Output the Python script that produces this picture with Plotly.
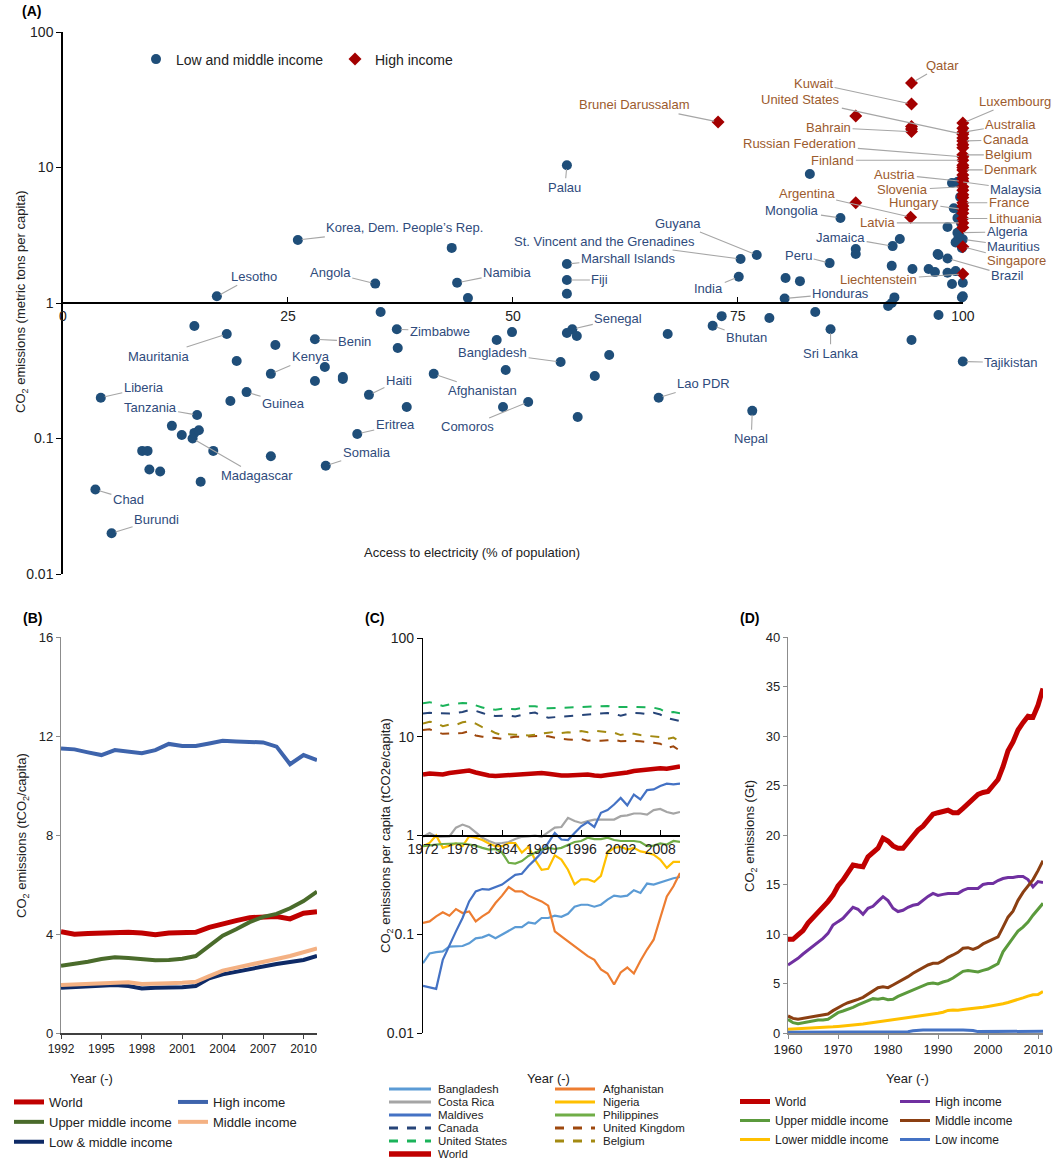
import numpy as np
import plotly.graph_objects as go

W, H = 1061, 1162
FONT = "Liberation Sans, Arial, sans-serif"

# ---------------- Panel A data ----------------
lm_named = ['Lesotho', 'Korea, Dem. People’s Rep.', 'Angola', 'Namibia', 'Palau', 'Guyana',
            'St. Vincent and the Grenadines', 'Marshall Islands', 'Fiji', 'India', 'Peru', 'Mongolia',
            'Jamaica', 'Honduras', 'Malaysia', 'Algeria', 'Mauritius', 'Brazil', 'Mauritania', 'Benin',
            'Kenya', 'Zimbabwe', 'Liberia', 'Tanzania', 'Guinea', 'Haiti', 'Afghanistan', 'Eritrea',
            'Somalia', 'Madagascar', 'Chad', 'Burundi', 'Comoros', 'Bangladesh', 'Senegal', 'Bhutan',
            'Lao PDR', 'Nepal', 'Sri Lanka', 'Tajikistan']
lm_named_access = [17.1, 26.1, 34.7, 43.8, 56.0, 77.1, 75.3, 56.0, 56.0, 75.1, 85.2, 86.4,
                   92.2, 80.2, 99.6, 99.6, 100.0, 98.3, 18.2, 28.0, 23.1, 37.1, 4.2, 14.9,
                   20.4, 34.0, 41.2, 32.7, 29.2, 14.4, 3.6, 5.4, 51.7, 55.3, 56.6, 72.2,
                   66.2, 76.6, 85.3, 100.0]
lm_named_co2 = [1.12, 2.92, 1.39, 1.41, 10.4, 2.26, 2.11, 1.94, 1.48, 1.56, 1.97, 4.24,
                2.63, 1.08, 7.9, 3.3, 2.95, 2.13, 0.59, 0.54, 0.30, 0.64, 0.20, 0.149,
                0.22, 0.21, 0.30, 0.108, 0.063, 0.10, 0.042, 0.020, 0.186, 0.367, 0.64, 0.68,
                0.20, 0.16, 0.64, 0.37]
lm_other_access = [43.2, 45.0, 56.0, 83.0, 93.0, 88.1, 88.1, 92.1, 94.4, 80.3, 81.9, 97.3,
                   96.2, 96.9, 98.3, 99.2, 98.8, 100.0, 91.7, 92.1, 92.4, 99.9, 100.0,
                   14.6, 23.6, 19.3, 29.1, 28.0, 31.1, 31.1, 18.6, 12.1, 13.2, 14.6, 15.1,
                   16.7, 8.8, 9.4, 9.6, 10.8, 15.3, 23.1, 38.2, 37.2, 35.3, 48.2, 49.9,
                   49.2, 48.9, 56.0, 57.1, 60.7, 59.1, 67.2, 57.2, 73.2, 78.5, 83.6, 94.3,
                   97.3, 98.8, 99.4, 99.7, 99.4, 98.3, 99.4, 99.9, 97.2, 99.0, 99.5, 99.7,
                   99.2, 99.8]
lm_other_co2 = [2.55, 1.09, 1.17, 8.96, 2.97, 2.5, 2.3, 1.88, 1.78, 1.53, 1.45, 2.26,
                1.78, 1.69, 1.67, 1.72, 1.38, 1.41, 0.95, 1.0, 1.1, 1.1, 1.12,
                0.676, 0.49, 0.373, 0.337, 0.266, 0.284, 0.275, 0.189, 0.124, 0.106, 0.11, 0.115,
                0.081, 0.081, 0.081, 0.059, 0.057, 0.048, 0.074, 0.171, 0.466, 0.858, 0.533, 0.61,
                0.32, 0.171, 0.60, 0.57, 0.413, 0.289, 0.59, 0.144, 0.80, 0.775, 0.858, 0.533,
                0.815, 7.7, 7.8, 6.06, 4.24, 3.64, 3.3, 2.55, 2.3, 5.0, 3.0, 4.8,
                2.8, 3.9]

hi_named = ['Qatar', 'Kuwait', 'Brunei Darussalam', 'Bahrain', 'Luxembourg', 'United States',
            'Australia', 'Canada', 'Russian Federation', 'Belgium', 'Finland', 'Denmark',
            'Austria', 'Slovenia', 'France', 'Hungary', 'Lithuania', 'Latvia', 'Argentina',
            'Singapore', 'Liechtenstein']
hi_named_access = [94.3, 94.3, 72.8, 94.3, 100.0, 100.0, 100.0, 100.0, 100.0, 100.0, 100.0, 100.0,
                   100.0, 100.0, 100.0, 100.0, 100.0, 100.0, 94.2, 100.0, 100.0]
hi_named_co2 = [42.0, 29.4, 21.7, 18.4, 21.3, 17.6, 18.2, 15.7, 12.0, 12.4, 11.3, 9.6,
                7.9, 7.2, 5.5, 4.9, 4.2, 3.9, 4.3, 2.6, 1.64]
hi_other_access = [88.1, 94.3, 94.3, 88.1, 100.0, 100.0, 100.0, 100.0, 100.0, 100.0, 100.0,
                   100.0, 100.0, 100.0, 100.0, 100.0, 100.0, 100.0]
hi_other_co2 = [24.0, 20.1, 19.2, 5.5, 19.5, 16.5, 14.7, 14.0, 10.4, 10.0, 8.8, 8.3,
                6.8, 6.3, 6.0, 5.2, 4.6, 3.6]

a_xticks = [0, 25, 50, 75, 100]
a_yticks = [0.01, 0.1, 1, 10, 100]
a_yticklabels = ['0.01', '0.1', '1', '10', '100']

# ---------------- Panel B data ----------------
b_years = list(range(1992, 2012))
b_world = [4.09, 3.99, 4.02, 4.04, 4.07, 4.07, 4.04, 3.97, 4.04, 4.07, 4.07, 4.27, 4.43, 4.54,
           4.66, 4.71, 4.71, 4.61, 4.84, 4.90]
b_high = [11.50, 11.46, 11.34, 11.23, 11.43, 11.38, 11.30, 11.43, 11.68, 11.60, 11.60, 11.70,
          11.81, 11.78, 11.77, 11.74, 11.57, 10.86, 11.23, 11.03]
b_upper = [2.72, 2.79, 2.88, 2.99, 3.06, 3.03, 2.98, 2.94, 2.95, 3.00, 3.11, 3.52, 3.93, 4.19,
           4.48, 4.69, 4.81, 5.04, 5.33, 5.71]
b_middle = [1.94, 1.97, 1.98, 2.03, 2.06, 2.05, 1.98, 1.98, 2.01, 2.03, 2.07, 2.30, 2.52, 2.64,
            2.77, 2.90, 2.99, 3.11, 3.25, 3.42]
b_lowmid = [1.83, 1.85, 1.86, 1.91, 1.94, 1.90, 1.80, 1.83, 1.83, 1.85, 1.90, 2.21, 2.37, 2.48,
            2.61, 2.71, 2.79, 2.87, 2.95, 3.11]
b_xticks = [1992, 1995, 1998, 2001, 2004, 2007, 2010]
b_yticks = [0, 4, 8, 12, 16]

# ---------------- Panel C data ----------------
c_years = list(range(1972, 2012))
c_bangladesh = [0.051, 0.064, 0.066, 0.067, 0.075, 0.076, 0.076, 0.081, 0.091, 0.093,
                0.099, 0.091, 0.099, 0.109, 0.118, 0.118, 0.132, 0.128, 0.146, 0.146,
                0.154, 0.150, 0.161, 0.190, 0.199, 0.199, 0.190, 0.199, 0.224, 0.246,
                0.240, 0.246, 0.279, 0.262, 0.326, 0.318, 0.336, 0.352, 0.369, 0.380]
c_afghanistan = [0.130, 0.135, 0.152, 0.167, 0.154, 0.180, 0.164, 0.170, 0.135, 0.152,
                 0.167, 0.207, 0.246, 0.301, 0.272, 0.272, 0.246, 0.228, 0.215, 0.195,
                 0.107, 0.095, 0.085, 0.075, 0.067, 0.060, 0.055, 0.044, 0.040, 0.031,
                 0.041, 0.046, 0.040, 0.054, 0.070, 0.088, 0.146, 0.242, 0.306, 0.418]
c_costarica = [0.97, 1.06, 0.97, 0.98, 0.98, 1.20, 1.29, 1.22, 1.08, 0.95,
               0.88, 0.83, 0.84, 0.86, 0.92, 0.97, 0.98, 1.00, 0.97, 1.08,
               1.20, 1.22, 1.51, 1.40, 1.34, 1.40, 1.45, 1.45, 1.45, 1.45,
               1.57, 1.60, 1.67, 1.67, 1.63, 1.81, 1.86, 1.73, 1.67, 1.73]
c_nigeria = [0.78, 0.84, 1.00, 0.75, 0.79, 0.83, 0.78, 0.98, 0.95, 0.90,
             0.83, 0.78, 0.78, 0.84, 0.84, 0.67, 0.77, 0.57, 0.45, 0.46,
             0.63, 0.57, 0.45, 0.32, 0.36, 0.36, 0.34, 0.39, 0.67, 0.75,
             0.77, 0.72, 0.75, 0.69, 0.67, 0.64, 0.57, 0.47, 0.54, 0.54]
c_maldives = [0.030, 0.029, 0.028, 0.055, 0.078, 0.107, 0.146, 0.215, 0.272, 0.287,
              0.283, 0.299, 0.318, 0.357, 0.400, 0.410, 0.490, 0.570, 0.670, 0.840,
              1.06, 0.91, 0.90, 1.06, 1.24, 1.37, 1.22, 1.70, 1.81, 2.06,
              2.40, 2.02, 2.60, 2.32, 2.88, 2.93, 3.17, 3.35, 3.30, 3.35]
c_philippines = [0.78, 0.80, 0.81, 0.82, 0.83, 0.83, 0.83, 0.81, 0.79, 0.75,
                 0.72, 0.73, 0.67, 0.53, 0.52, 0.55, 0.62, 0.67, 0.72, 0.75,
                 0.73, 0.75, 0.81, 0.86, 0.88, 0.95, 0.92, 0.92, 0.95, 0.90,
                 0.88, 0.88, 0.88, 0.86, 0.78, 0.79, 0.83, 0.81, 0.88, 0.86]
c_canada = [17.2, 17.5, 17.3, 17.1, 17.2, 17.4, 17.8, 18.6, 18.3, 17.4,
            16.6, 16.2, 16.3, 16.4, 16.0, 16.6, 17.3, 17.6, 16.4, 15.6,
            15.8, 15.9, 16.0, 16.2, 16.4, 16.7, 16.9, 17.1, 17.4, 17.1,
            16.3, 17.0, 17.4, 17.3, 16.9, 17.5, 16.8, 15.5, 15.0, 14.4]
c_uk = [11.7, 11.9, 11.2, 10.7, 10.8, 10.9, 10.9, 11.4, 10.3, 10.0,
        9.9, 9.7, 9.5, 9.7, 10.0, 10.0, 10.1, 10.2, 10.2, 10.1,
        9.8, 9.5, 9.4, 9.3, 9.5, 9.1, 9.2, 9.1, 9.2, 9.3,
        9.0, 9.1, 9.1, 9.0, 8.9, 8.7, 8.5, 7.7, 8.0, 7.2]
c_us = [21.8, 22.4, 21.4, 20.5, 21.2, 21.7, 22.0, 21.8, 20.6, 19.8,
        18.9, 18.8, 19.2, 19.1, 19.0, 19.6, 20.3, 20.4, 19.7, 19.4,
        19.5, 19.6, 19.7, 19.7, 20.0, 20.1, 20.0, 20.1, 20.5, 20.0,
        19.9, 20.0, 20.1, 20.0, 19.6, 19.7, 19.0, 17.5, 17.8, 17.3]
c_belgium = [13.6, 14.2, 13.8, 12.8, 13.3, 13.2, 14.0, 14.4, 13.6, 12.5,
             11.8, 10.9, 10.4, 10.6, 10.5, 10.4, 10.3, 10.5, 10.8, 11.0,
             11.2, 10.9, 11.1, 11.0, 11.4, 11.1, 11.5, 11.2, 11.1, 11.0,
             10.4, 10.8, 10.7, 10.4, 10.2, 10.0, 9.9, 9.5, 9.8, 8.9]
c_world = [4.15, 4.25, 4.20, 4.15, 4.30, 4.35, 4.45, 4.55, 4.35, 4.15,
           4.05, 4.00, 4.05, 4.10, 4.12, 4.18, 4.25, 4.30, 4.30, 4.22,
           4.10, 4.05, 4.05, 4.10, 4.15, 4.15, 4.05, 4.00, 4.10, 4.15,
           4.20, 4.35, 4.50, 4.60, 4.70, 4.75, 4.80, 4.75, 4.90, 5.00]
c_xticks = [1972, 1978, 1984, 1990, 1996, 2002, 2008]
c_yticks = [0.01, 0.1, 1, 10, 100]
c_yticklabels = ['0.01', '0.1', '1', '10', '100']

# ---------------- Panel D data ----------------
d_years = list(range(1960, 2012))
d_world = [9.46, 9.46, 9.9, 10.35, 11.1, 11.6, 12.15, 12.6, 13.27, 13.93,
           14.85, 15.45, 16.2, 16.97, 16.87, 16.8, 17.8, 18.3, 18.66, 19.67,
           19.4, 18.9, 18.66, 18.66, 19.3, 20.0, 20.5, 20.9, 21.58, 22.1,
           22.25, 22.35, 22.5, 22.25, 22.25, 22.7, 23.2, 23.7, 24.1, 24.3,
           24.4, 25.0, 25.6, 26.9, 28.5, 29.4, 30.6, 31.35, 32.0, 31.9,
           33.1, 34.8]
d_high = [6.87, 7.2, 7.54, 7.98, 8.38, 8.79, 9.22, 9.56, 10.06, 10.9,
          11.25, 11.58, 12.15, 12.7, 12.5, 12.0, 12.6, 12.8, 13.3, 13.77,
          13.37, 12.6, 12.27, 12.4, 12.7, 12.9, 13.0, 13.4, 13.8, 14.1,
          13.9, 14.0, 14.1, 14.1, 14.1, 14.4, 14.6, 14.6, 14.6, 15.0,
          15.1, 15.1, 15.4, 15.6, 15.7, 15.7, 15.8, 15.8, 15.5, 14.77,
          15.3, 15.2]
d_upper = [1.38, 1.04, 0.94, 1.04, 1.14, 1.24, 1.31, 1.31, 1.38, 1.72,
           2.05, 2.22, 2.39, 2.59, 2.83, 3.06, 3.27, 3.47, 3.4, 3.5,
           3.37, 3.4, 3.7, 3.9, 4.11, 4.31, 4.55, 4.78, 4.98, 5.05,
           4.95, 5.15, 5.29, 5.56, 5.89, 6.23, 6.3, 6.23, 6.16, 6.33,
           6.46, 6.73, 7.0, 8.2, 8.9, 9.7, 10.3, 10.7, 11.2, 11.9,
           12.5, 13.1]
d_middle = [1.72, 1.48, 1.38, 1.48, 1.58, 1.65, 1.72, 1.82, 1.92, 2.26,
            2.59, 2.83, 3.06, 3.27, 3.4, 3.6, 3.94, 4.28, 4.58, 4.68,
            4.58, 4.85, 5.12, 5.35, 5.69, 6.03, 6.3, 6.53, 6.87, 7.04,
            7.04, 7.31, 7.65, 7.88, 8.15, 8.56, 8.62, 8.45, 8.65, 9.0,
            9.23, 9.46, 9.7, 10.7, 11.7, 12.3, 13.4, 14.2, 14.8, 15.5,
            16.4, 17.4]
d_lower = [0.37, 0.39, 0.41, 0.43, 0.46, 0.49, 0.52, 0.55, 0.58, 0.62,
           0.66, 0.70, 0.75, 0.81, 0.85, 0.91, 0.98, 1.05, 1.13, 1.20,
           1.28, 1.34, 1.40, 1.45, 1.52, 1.58, 1.65, 1.74, 1.83, 1.92,
           1.99, 2.10, 2.28, 2.33, 2.30, 2.38, 2.42, 2.45, 2.52, 2.60,
           2.68, 2.76, 2.85, 2.95, 3.08, 3.22, 3.38, 3.55, 3.72, 3.86,
           3.88, 4.20]
d_low = [0.08, 0.08, 0.08, 0.08, 0.09, 0.09, 0.09, 0.09, 0.09, 0.10,
         0.10, 0.10, 0.10, 0.10, 0.11, 0.11, 0.11, 0.11, 0.11, 0.12,
         0.12, 0.12, 0.12, 0.12, 0.13, 0.22, 0.29, 0.30, 0.30, 0.31,
         0.31, 0.30, 0.30, 0.31, 0.30, 0.30, 0.29, 0.26, 0.14, 0.14,
         0.15, 0.15, 0.15, 0.16, 0.16, 0.16, 0.17, 0.17, 0.17, 0.18,
         0.18, 0.18]
d_xticks = [1960, 1970, 1980, 1990, 2000, 2010]
d_yticks = [0, 5, 10, 15, 20, 25, 30, 35, 40]


def X(p):
    return p / W


def Y(p):
    return 1 - p / H


# ---------------- styles ----------------
LM_COLOR = '#1F4E79'
HI_COLOR = '#A30000'
LM_TEXT = '#2F4B7C'
HI_TEXT = '#9C5B2E'
LEADER = '#A6A6A6'

label_offsets = {
    'Lesotho': (37, -20), 'Korea, Dem. People’s Rep.': (107, -12), 'Angola': (-45, -11),
    'Namibia': (50, -10), 'Palau': (-2, 22), 'Guyana': (-79, -32),
    'St. Vincent and the Grenadines': (-136, -18), 'Marshall Islands': (61, -6), 'Fiji': (33, 0),
    'India': (-30, 12), 'Peru': (-31, -8), 'Mongolia': (-48, -7), 'Jamaica': (-52, -9),
    'Honduras': (56, -5), 'Malaysia': (57, 8), 'Algeria': (48, -1), 'Mauritius': (51, 7),
    'Brazil': (60, 17), 'Mauritania': (-68, 22), 'Benin': (40, 2), 'Kenya': (40, -17),
    'Zimbabwe': (43, 2), 'Liberia': (43, -10), 'Tanzania': (-47, -8), 'Guinea': (37, 11),
    'Haiti': (30, -14), 'Afghanistan': (49, 17), 'Eritrea': (38, -9), 'Somalia': (41, -13),
    'Madagascar': (64, 37), 'Chad': (33, 10), 'Burundi': (45, -14), 'Comoros': (-61, 25),
    'Bangladesh': (-68, -9), 'Senegal': (46, -11), 'Bhutan': (34, 12), 'Lao PDR': (45, -14),
    'Nepal': (-1, 28), 'Sri Lanka': (0, 24), 'Tajikistan': (48, 1),
    'Qatar': (31, -18), 'Kuwait': (-98, -21), 'United States': (-162, -35),
    'Brunei Darussalam': (-84, -17), 'Bahrain': (-83, -4), 'Russian Federation': (-163, -13),
    'Finland': (-130, 0), 'Austria': (-68, -7), 'Slovenia': (-60, 3), 'Argentina': (-104, -24),
    'Hungary': (-49, -7), 'Latvia': (-85, 0), 'Liechtenstein': (-84, 6), 'Luxembourg': (52, -22),
    'Australia': (48, -8), 'Canada': (43, -1), 'Belgium': (46, 0), 'Denmark': (48, 0),
    'France': (46, 0), 'Lithuania': (53, 0), 'Singapore': (54, 14),
}

fig = go.Figure()

# Panel A
fig.add_trace(go.Scatter(
    x=lm_named_access + lm_other_access, y=lm_named_co2 + lm_other_co2,
    mode='markers', name='Low and middle income', legend='legend',
    marker=dict(symbol='circle', size=10, color=LM_COLOR),
    cliponaxis=False, xaxis='x', yaxis='y', hoverinfo='skip'))
fig.add_trace(go.Scatter(
    x=hi_named_access + hi_other_access, y=hi_named_co2 + hi_other_co2,
    mode='markers', name='High income', legend='legend2',
    marker=dict(symbol='diamond', size=10, color=HI_COLOR),
    cliponaxis=False, xaxis='x', yaxis='y', hoverinfo='skip'))

annotations = []
for names, xs, ys, col in [(lm_named, lm_named_access, lm_named_co2, LM_TEXT),
                           (hi_named, hi_named_access, hi_named_co2, HI_TEXT)]:
    for n, xv, yv in zip(names, xs, ys):
        ax, ay = label_offsets[n]
        annotations.append(dict(
            x=xv, y=float(np.log10(yv)), xref='x', yref='y', text=n,
            showarrow=True, arrowhead=0, arrowwidth=1.1, arrowcolor=LEADER,
            standoff=4, ax=ax, ay=ay, font=dict(size=13, color=col, family=FONT)))

# Panel B
b_series = [('World', b_world, '#C00000', 5, 'legend3'),
            ('Upper middle income', b_upper, '#4A6B2B', 4, 'legend3'),
            ('Low & middle income', b_lowmid, '#0E2A66', 4, 'legend3'),
            ('High income', b_high, '#3E64AC', 4, 'legend4'),
            ('Middle income', b_middle, '#F4B183', 4, 'legend4')]
for name, vals, col, wd, lg in b_series:
    fig.add_trace(go.Scatter(x=b_years, y=vals, mode='lines', name=name, legend=lg,
                             line=dict(color=col, width=wd), xaxis='x2', yaxis='y2',
                             hoverinfo='skip'))

# Panel C
c_style = {
    'Bangladesh': ('#5B9BD5', 2.2, 'solid'),
    'Afghanistan': ('#ED7D31', 2.2, 'solid'),
    'Costa Rica': ('#A5A5A5', 2.2, 'solid'),
    'Nigeria': ('#FFC000', 2.2, 'solid'),
    'Maldives': ('#4472C4', 2.2, 'solid'),
    'Philippines': ('#70AD47', 2.2, 'solid'),
    'Canada': ('#264478', 2.0, 'dash'),
    'United Kingdom': ('#9E480E', 2.0, 'dash'),
    'United States': ('#1BB35A', 2.0, 'dash'),
    'Belgium': ('#A38A12', 2.0, 'dash'),
    'World': ('#C00000', 4.5, 'solid'),
}
c_data = {'Bangladesh': c_bangladesh, 'Afghanistan': c_afghanistan, 'Costa Rica': c_costarica,
          'Nigeria': c_nigeria, 'Maldives': c_maldives, 'Philippines': c_philippines,
          'Canada': c_canada, 'United Kingdom': c_uk, 'United States': c_us,
          'Belgium': c_belgium, 'World': c_world}
for name, vals in c_data.items():
    col, wd, dash = c_style[name]
    fig.add_trace(go.Scatter(x=c_years, y=vals, mode='lines', name=name, showlegend=False,
                             line=dict(color=col, width=wd, dash=dash), xaxis='x3', yaxis='y3',
                             hoverinfo='skip'))

# Panel D
d_series = [('World', d_world, '#C00000', 5, 'legend5'),
            ('Upper middle income', d_upper, '#5B9A3C', 3, 'legend5'),
            ('Lower middle income', d_lower, '#FFC000', 3, 'legend5'),
            ('High income', d_high, '#7030A0', 3, 'legend6'),
            ('Middle income', d_middle, '#8B3F12', 3, 'legend6'),
            ('Low income', d_low, '#4472C4', 3, 'legend6')]
for name, vals, col, wd, lg in d_series:
    fig.add_trace(go.Scatter(x=d_years, y=vals, mode='lines', name=name, legend=lg,
                             line=dict(color=col, width=wd), xaxis='x4', yaxis='y4',
                             hoverinfo='skip'))

# ---------------- text annotations ----------------
def ptext(x, y, text, size=13, bold=False, angle=0, color='#222'):
    annotations.append(dict(
        x=X(x), y=Y(y), xref='paper', yref='paper', text=('<b>%s</b>' % text) if bold else text,
        showarrow=False, xanchor='center', yanchor='middle', textangle=angle,
        font=dict(size=size, color=color, family=FONT)))

ptext(31, 11, '(A)', 14, bold=True, color='#000')
ptext(32, 618, '(B)', 14, bold=True, color='#000')
ptext(374, 618, '(C)', 14, bold=True, color='#000')
ptext(749, 618, '(D)', 14, bold=True, color='#000')
ptext(472, 553, 'Access to electricity (% of population)', 13)
ptext(22, 302, 'CO<sub>2</sub> emissions (metric tons per capita)', 13, angle=-90)
ptext(91, 1078, 'Year (-)', 13)
ptext(22, 836, 'CO<sub>2</sub> emissions (tCO<sub>2</sub>/capita)', 13, angle=-90)
ptext(548, 1078, 'Year (-)', 13)
ptext(386, 836, 'CO<sub>2</sub> emissions per capita (tCO2e/capita)', 13, angle=-90)
ptext(907, 1078, 'Year (-)', 13)
ptext(750, 836, 'CO<sub>2</sub> emissions (Gt)', 13, angle=-90)

# manual legend for panel C
shapes = []
c_leg_cols = [(['Bangladesh', 'Costa Rica', 'Maldives', 'Canada', 'United States', 'World'], 389, 431, 436),
              (['Afghanistan', 'Nigeria', 'Philippines', 'United Kingdom', 'Belgium'], 555, 595, 601)]
c_leg_rows = [1089, 1102, 1115, 1128, 1141, 1154]
for names, x0, x1, xt in c_leg_cols:
    for n, yy in zip(names, c_leg_rows):
        col, wd, dash = c_style[n]
        shapes.append(dict(type='line', xref='paper', yref='paper', x0=X(x0), x1=X(x1),
                           y0=Y(yy), y1=Y(yy), line=dict(color=col, width=wd + 0.8, dash=dash)))
        annotations.append(dict(x=X(xt), y=Y(yy), xref='paper', yref='paper', text=n,
                                showarrow=False, xanchor='left', yanchor='middle',
                                font=dict(size=11.5, color='#222', family=FONT)))

axis_common = dict(showgrid=False, zeroline=False, showline=True)

leg_common = dict(bgcolor='rgba(0,0,0,0)', borderwidth=0, orientation='v',
                  xanchor='left', yanchor='top', font=dict(size=13, color='#222', family=FONT),
                  itemwidth=30, tracegroupgap=0)

fig.update_layout(
    width=W, height=H, autosize=False,
    margin=dict(l=0, r=0, t=0, b=0, pad=0, autoexpand=False),
    paper_bgcolor='white', plot_bgcolor='white',
    font=dict(family=FONT, size=13, color='#222'),
    showlegend=True,
    legend=dict(leg_common, x=X(136), y=Y(43.5), font=dict(size=14, color='#222', family=FONT)),
    legend2=dict(leg_common, x=X(335), y=Y(43.5), font=dict(size=14, color='#222', family=FONT)),
    legend3=dict(leg_common, x=X(9), y=Y(1087)),
    legend4=dict(leg_common, x=X(173), y=Y(1087)),
    legend5=dict(leg_common, x=X(735), y=Y(1087), font=dict(size=12, color='#222', family=FONT)),
    legend6=dict(leg_common, x=X(895), y=Y(1087), font=dict(size=12, color='#222', family=FONT)),
    xaxis=dict(axis_common, domain=[X(63), X(963)], range=[0, 100.02], anchor='free',
               position=Y(303), linecolor='#000', linewidth=1.8, ticks='inside', ticklen=5,
               tickcolor='#000', tickvals=a_xticks, tickfont=dict(size=14, color='#222')),
    yaxis=dict(axis_common, domain=[Y(574), Y(32)], type='log', range=[-2, 2], anchor='x',
               linecolor='#000', linewidth=1.5, ticks='outside', ticklen=5, tickcolor='#000',
               tickvals=a_yticks, ticktext=a_yticklabels, tickfont=dict(size=14, color='#222')),
    xaxis2=dict(axis_common, domain=[X(61), X(317)], range=[1992, 2011], anchor='y2',
                linecolor='#404040', linewidth=2, ticks='outside', ticklen=4, tickcolor='#404040',
                tickvals=b_xticks, tickfont=dict(size=12, color='#222')),
    yaxis2=dict(axis_common, domain=[Y(1033), Y(637)], range=[0, 16], anchor='x2',
                linecolor='#8C8C8C', linewidth=1.2, ticks='outside', ticklen=4, tickcolor='#8C8C8C',
                tickvals=b_yticks, tickfont=dict(size=13, color='#222')),
    xaxis3=dict(axis_common, domain=[X(423), X(680)], range=[1972, 2011], anchor='free',
                position=Y(836), linecolor='#000', linewidth=1.8, ticks='inside', ticklen=5,
                tickcolor='#000', tickvals=c_xticks, tickfont=dict(size=14, color='#222')),
    yaxis3=dict(axis_common, domain=[Y(1033), Y(638)], type='log', range=[-2, 2], anchor='x3',
                linecolor='#000', linewidth=1.3, ticks='outside', ticklen=5, tickcolor='#000',
                tickvals=c_yticks, ticktext=c_yticklabels, tickfont=dict(size=14, color='#222')),
    xaxis4=dict(axis_common, domain=[X(788), X(1043)], range=[1960, 2011], anchor='y4',
                linecolor='#8C8C8C', linewidth=1.5, ticks='outside', ticklen=4, tickcolor='#8C8C8C',
                tickvals=d_xticks, tickfont=dict(size=13, color='#222')),
    yaxis4=dict(axis_common, domain=[Y(1033), Y(637)], range=[0, 40], anchor='x4',
                linecolor='#8C8C8C', linewidth=1.2, ticks='outside', ticklen=4, tickcolor='#8C8C8C',
                tickvals=d_yticks, tickfont=dict(size=13, color='#222')),
    annotations=annotations,
    shapes=shapes,
    hovermode=False,
)

fig.write_html("out.html")
